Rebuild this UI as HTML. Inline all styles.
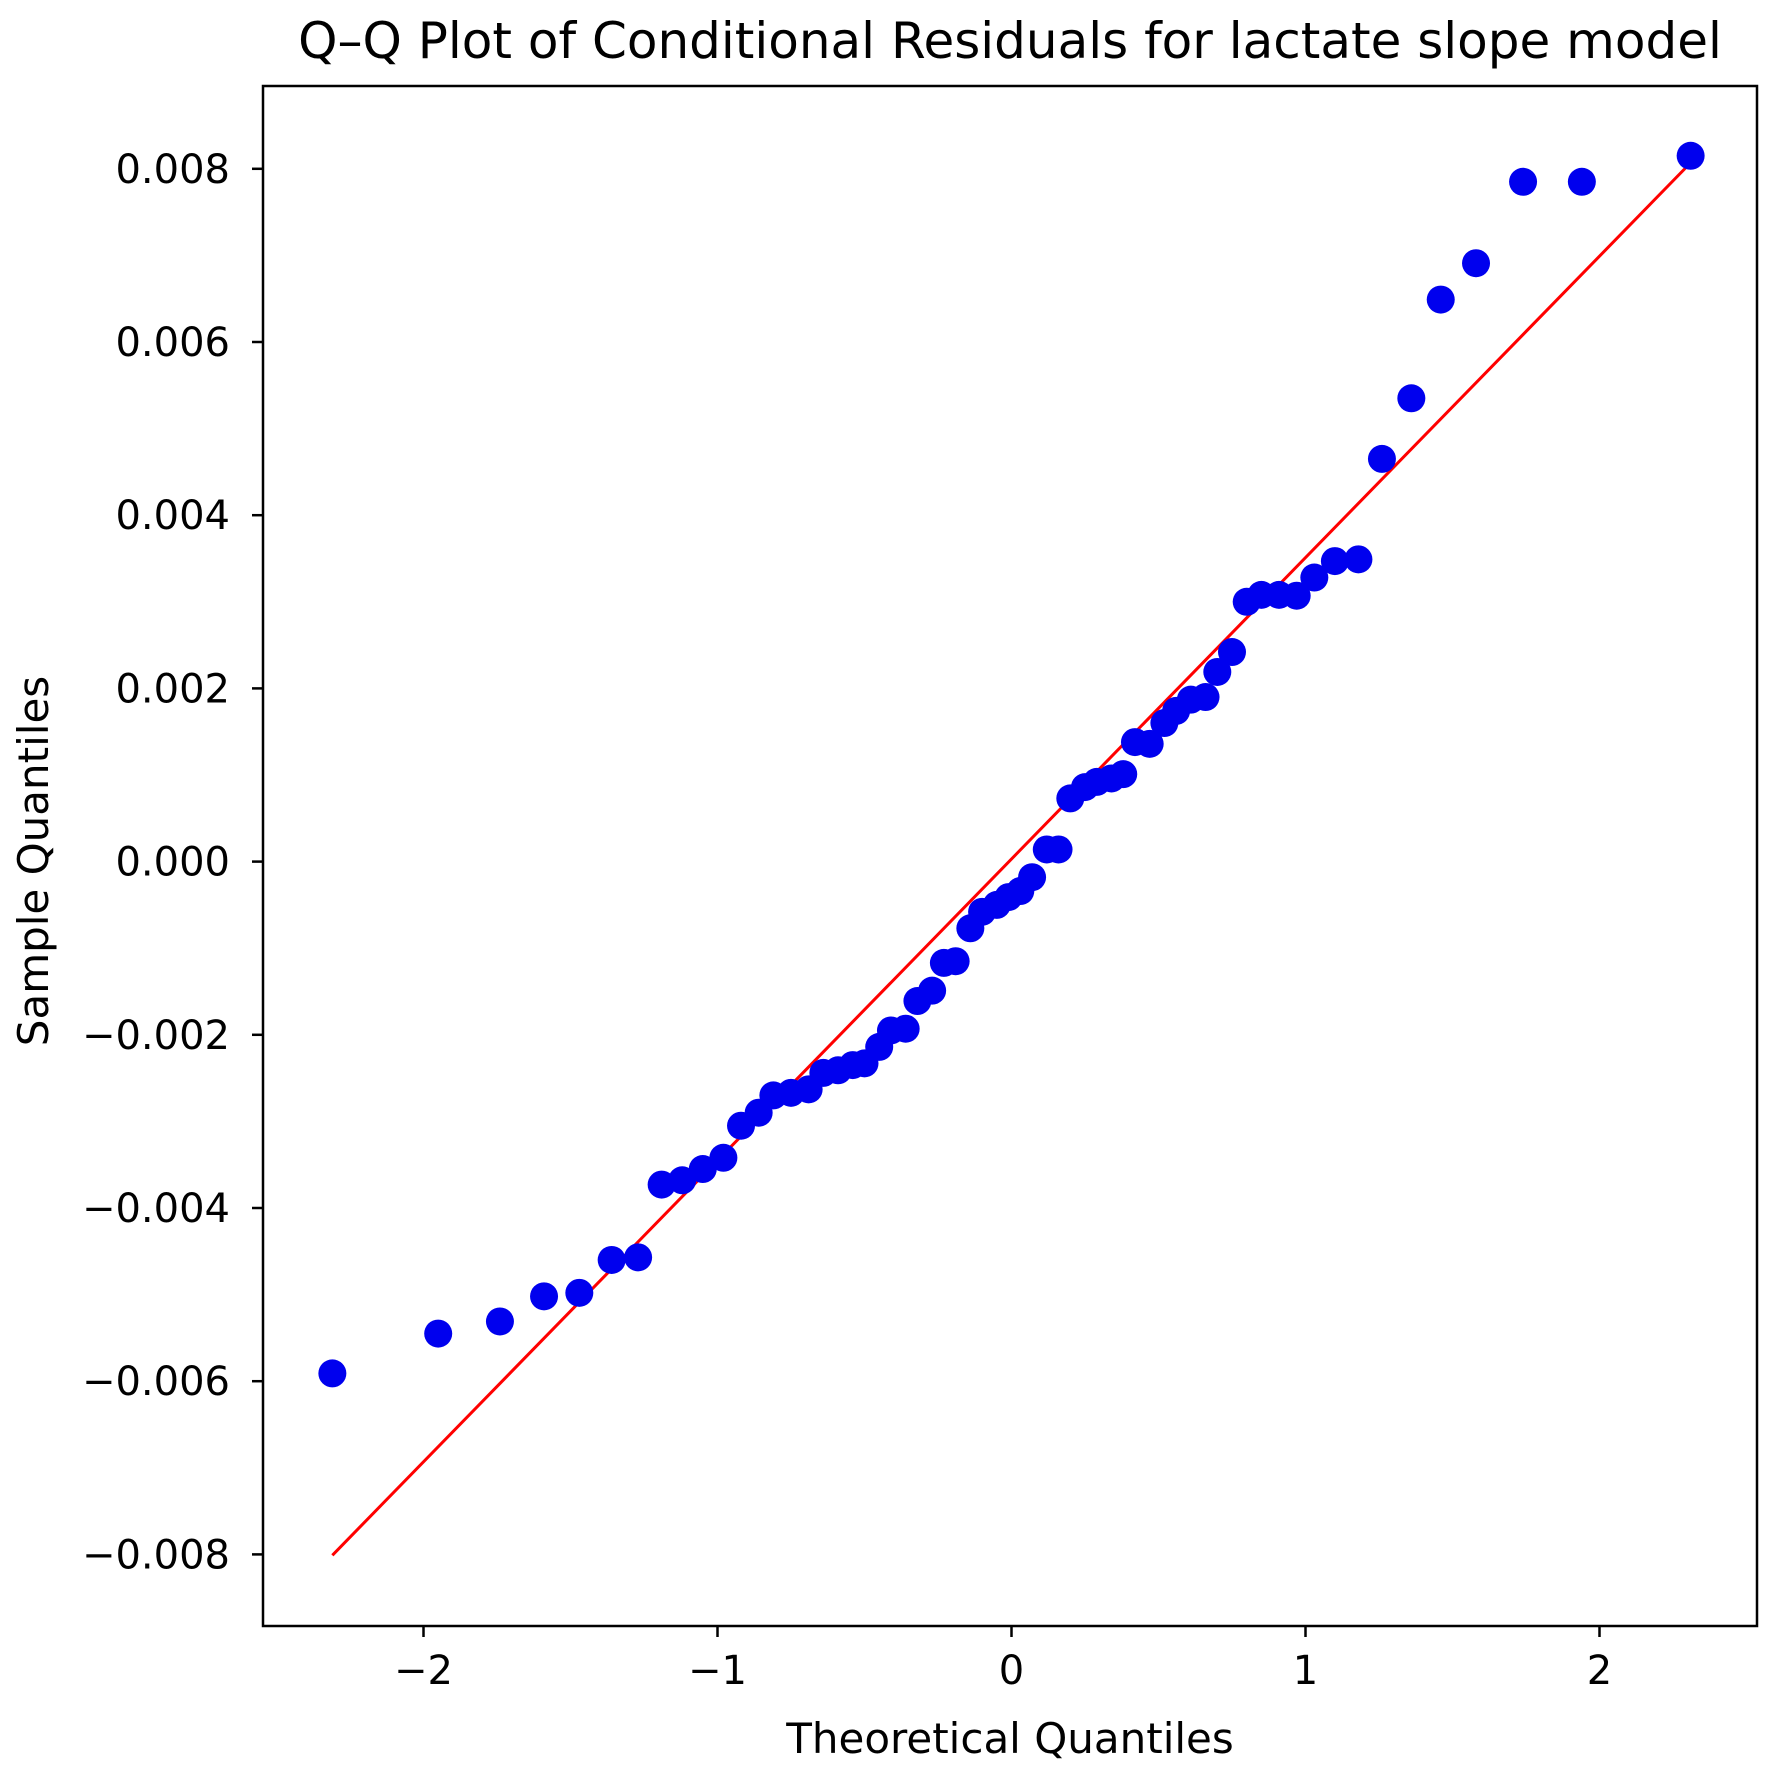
<!DOCTYPE html>
<html><head><meta charset="utf-8"><style>
html,body{margin:0;padding:0;background:#fff;}
svg{display:block;font-family:"DejaVu Sans","Liberation Sans",sans-serif;}
</style></head><body>
<svg id="chart" width="1780" height="1773" viewBox="0 0 1780 1773" xmlns="http://www.w3.org/2000/svg">
<rect width="1780" height="1773" fill="#fff"/>
<text x="1010" y="58" font-size="50" text-anchor="middle" fill="#000">Q–Q Plot of Conditional Residuals for lactate slope model</text>
<g id="xticks"></g><g id="yticks"></g>
<g id="line"></g><g id="points"></g>
<rect x="263" y="86" width="1494" height="1540" fill="none" stroke="#000" stroke-width="2.5"/>
<text x="1010" y="1753" font-size="42" text-anchor="middle" fill="#000">Theoretical Quantiles</text>
<text transform="translate(48,861) rotate(-90)" font-size="42" text-anchor="middle" fill="#000">Sample Quantiles</text>
</svg>
<script>
const theoretical=[-2.31,-1.95,-1.74,-1.59,-1.47,-1.36,-1.27,-1.19,-1.12,-1.05,-0.98,-0.92,-0.86,-0.81,-0.75,-0.69,-0.64,-0.59,-0.54,-0.50,-0.45,-0.41,-0.36,-0.32,-0.27,-0.23,-0.19,-0.14,-0.10,-0.05,-0.01,0.03,0.07,0.12,0.16,0.20,0.25,0.29,0.34,0.38,0.42,0.47,0.52,0.56,0.61,0.66,0.70,0.75,0.80,0.85,0.91,0.97,1.03,1.10,1.18,1.26,1.36,1.46,1.58,1.74,1.94,2.31];
const sample=[-0.00591,-0.00545,-0.00531,-0.00502,-0.00498,-0.0046,-0.00457,-0.00373,-0.00368,-0.00355,-0.00342,-0.00305,-0.0029,-0.0027,-0.00267,-0.00263,-0.00244,-0.00241,-0.00235,-0.00233,-0.00214,-0.00195,-0.00193,-0.00161,-0.00149,-0.00117,-0.00115,-0.00077,-0.00058,-0.0005,-0.00041,-0.00034,-0.00018,0.00014,0.00014,0.00073,0.00086,0.00092,0.00096,0.00101,0.00138,0.00136,0.0016,0.00174,0.00187,0.0019,0.00219,0.00242,0.003,0.00308,0.00308,0.00307,0.00328,0.00347,0.00349,0.00465,0.00535,0.00649,0.00691,0.00785,0.00785,0.00815];
const lineX=[-2.31,2.31];
const lineY=[-0.00801,0.00807];
const xTicks=[-2,-1,0,1,2];
const yTicks=[-0.008,-0.006,-0.004,-0.002,0,0.002,0.004,0.006,0.008];
const NS="http://www.w3.org/2000/svg";
function sx(v){return 1011.5+v*294;}
function sy(v){return 861.6-v*86600;}
function mk(tag,attrs,parent){const e=document.createElementNS(NS,tag);for(const k in attrs)e.setAttribute(k,attrs[k]);parent.appendChild(e);return e;}
const xg=document.getElementById('xticks'),yg=document.getElementById('yticks'),pg=document.getElementById('points'),lg=document.getElementById('line');
xTicks.forEach(t=>{
  const l=mk('line',{x1:sx(t),x2:sx(t),y1:1626,y2:1637,stroke:'#000','stroke-width':2.5},xg);
  
  
  const tx=mk('text',{x:sx(t),y:1684,'font-size':40,'text-anchor':'middle',fill:'#000'},xg);
  tx.textContent=(t<0?'\u2212':'')+Math.abs(t);
  
  
});
yTicks.forEach(t=>{
  const l=mk('line',{x1:252,x2:263,y1:sy(t),y2:sy(t),stroke:'#000','stroke-width':2.5},yg);
  
  
  const tx=mk('text',{x:230,y:sy(t)+14,'font-size':40,'text-anchor':'end',fill:'#000'},yg);
  tx.textContent=(t<0?'\u2212':'')+Math.abs(t).toFixed(3);
  
  
});
const rl=mk('line',{x1:sx(lineX[0]),y1:sy(lineY[0]),x2:sx(lineX[1]),y2:sy(lineY[1]),stroke:'#ff0000','stroke-width':3},lg);


theoretical.forEach((x,i)=>{
  const c=mk('circle',{cx:sx(x),cy:sy(sample[i]),r:14,fill:'#0000ee'},pg);
  
  
});
</script>
</body></html>
